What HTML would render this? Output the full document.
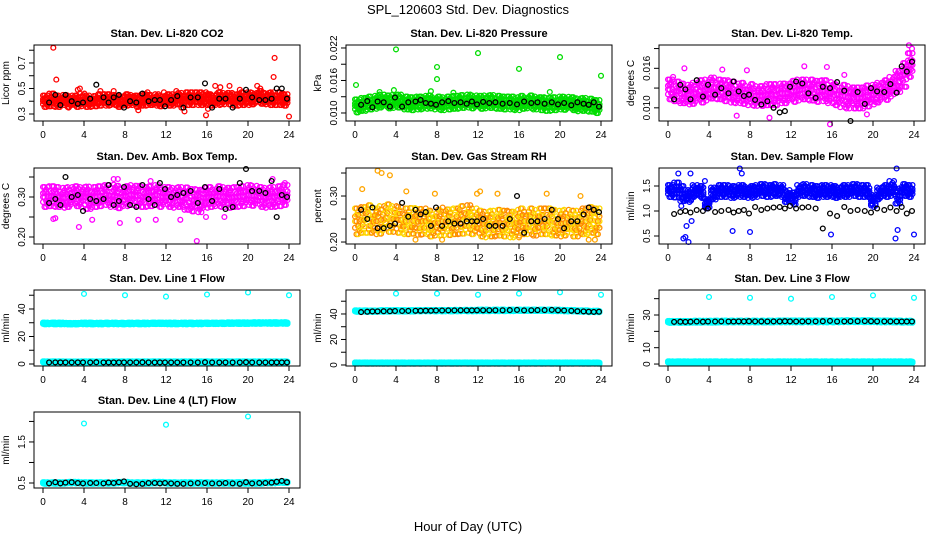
<!DOCTYPE html>
<html><head><meta charset="utf-8"><style>
html,body{margin:0;padding:0;background:#fff;}
svg{display:block;font-family:"Liberation Sans",Arial,sans-serif;}
</style></head><body>
<svg id="chart" width="936" height="540" viewBox="0 0 936 540" xmlns="http://www.w3.org/2000/svg">
<rect x="0" y="0" width="936" height="540" fill="#fff"/>
<text x="468" y="14" font-size="13" text-anchor="middle">SPL_120603  Std. Dev. Diagnostics</text>
<text x="468" y="531" font-size="13" text-anchor="middle">Hour of Day (UTC)</text>
</svg>
<script>
const hoursBand40=[0,0.6,1.2,1.8,2.4,3,3.6,4.2,4.8,5.4,6,6.6,7.2,7.8,8.4,9,9.6,10.2,10.8,11.4,12,12.6,13.2,13.8,14.4,15,15.6,16.2,16.8,17.4,18,18.6,19.2,19.8,20.4,21,21.6,22.2,22.8,23.4];
const hoursBand20=[0,1.2,2.4,3.6,4.8,6,7.2,8.4,9.6,10.8,12,13.2,14.4,15.6,16.8,18,19.2,20.4,21.6,22.8];
const hoursBlack=[0.6,1.2,1.7,2.2,2.8,3.4,3.9,4.6,5.2,5.9,6.4,6.9,7.4,7.9,8.5,9.1,9.7,10.3,10.9,11.4,11.9,12.5,13.1,13.7,14.4,15.1,15.8,16.5,17.2,17.8,18.5,19.2,19.8,20.4,21.1,21.7,22.3,22.8,23.3,23.8];
const xTicks=[0,4,8,12,16,20,24];

// CO2
const co2Mid=[0.40,0.41,0.40,0.41,0.40,0.40,0.41,0.40,0.40,0.41,0.41,0.41,0.40,0.41,0.41,0.40,0.41,0.41,0.41,0.40,0.41,0.41,0.42,0.42,0.42,0.42,0.42,0.41,0.42,0.42,0.42,0.41,0.42,0.42,0.42,0.43,0.42,0.42,0.42,0.41];
const co2Spread=[0.045,0.05,0.045,0.04,0.045,0.045,0.05,0.045,0.04,0.045,0.045,0.04,0.045,0.045,0.04,0.045,0.045,0.04,0.045,0.04,0.045,0.045,0.045,0.05,0.05,0.05,0.05,0.045,0.05,0.045,0.045,0.045,0.05,0.05,0.045,0.05,0.045,0.05,0.05,0.045];
const co2OutHours=[1,1.3,2.5,3.4,3.6,5.6,6.9,9.3,10.2,11.8,13,13.8,13.5,15.9,16.1,16.8,17.3,18.2,19.2,20.9,21.2,22.5,22.6,23.4,24];
const co2OutVals=[0.82,0.57,0.35,0.49,0.5,0.48,0.48,0.33,0.47,0.47,0.48,0.32,0.35,0.29,0.34,0.52,0.51,0.52,0.49,0.52,0.5,0.59,0.74,0.46,0.28];
const co2Black=[0.39,0.45,0.37,0.45,0.40,0.38,0.39,0.42,0.53,0.43,0.39,0.43,0.45,0.35,0.40,0.39,0.46,0.40,0.41,0.41,0.36,0.41,0.44,0.35,0.43,0.43,0.54,0.35,0.42,0.42,0.35,0.42,0.49,0.43,0.41,0.41,0.42,0.50,0.50,0.42];

// Pressure
const presMid=[0.01131,0.01158,0.01185,0.01198,0.01219,0.01205,0.01212,0.01219,0.01185,0.01171,0.01185,0.01198,0.01205,0.01185,0.01171,0.01185,0.01198,0.01212,0.01219,0.01205,0.01198,0.01205,0.01212,0.01198,0.01185,0.01185,0.01171,0.01198,0.01205,0.01185,0.01171,0.01158,0.01171,0.01185,0.01178,0.01171,0.01151,0.01158,0.01144,0.01117];
const presOutHours=[0.1,4,8,8,12,16,20,24,3.8,2.4,7.4,9.6,19];
const presOutVals=[0.01517,0.02173,0.01848,0.01625,0.02106,0.01814,0.02031,0.01686,0.01422,0.01388,0.01402,0.01374,0.01388];
const presBlack=[0.01151,0.01219,0.01104,0.01212,0.01198,0.01117,0.01286,0.01117,0.01198,0.01212,0.01239,0.01185,0.01171,0.01151,0.01198,0.01219,0.01185,0.01198,0.01171,0.01212,0.01158,0.01205,0.01185,0.01198,0.01171,0.01185,0.01158,0.01212,0.01185,0.01198,0.01171,0.01198,0.01158,0.01185,0.01144,0.01198,0.01171,0.01151,0.01198,0.01117];

// Temp
const tempMid=[0.0128,0.0125,0.0122,0.0120,0.0122,0.0125,0.0127,0.0130,0.0128,0.0126,0.0124,0.0122,0.0122,0.0120,0.0118,0.0118,0.0120,0.0120,0.0122,0.0122,0.0125,0.0127,0.0128,0.0127,0.0125,0.0126,0.0123,0.0120,0.0118,0.0116,0.0115,0.0115,0.0118,0.0120,0.0123,0.0127,0.0132,0.0140,0.0150,0.0165];
const tempSpread=[0.0015,0.0015,0.0015,0.0015,0.0016,0.0017,0.0016,0.0016,0.0015,0.0016,0.0016,0.0015,0.0016,0.0016,0.0015,0.0015,0.0016,0.0016,0.0015,0.0015,0.0016,0.0016,0.0015,0.0016,0.0016,0.0016,0.0016,0.0016,0.0017,0.0017,0.0016,0.0016,0.0016,0.0015,0.0015,0.0015,0.0015,0.0016,0.0018,0.0018];
const tempOutHours=[1.6,5.3,6.7,7.7,9.9,13.3,15.5,15.8,17.2,19.4,23.5,23.8,23.6,0.5];
const tempOutVals=[0.0160,0.0158,0.0088,0.0157,0.0085,0.0163,0.0162,0.0075,0.0150,0.0090,0.0195,0.0190,0.0170,0.0147];
const tempBlack=[0.0113,0.0135,0.0128,0.0113,0.0142,0.0117,0.0135,0.0120,0.0130,0.0122,0.0140,0.0125,0.0118,0.0120,0.0112,0.0105,0.0110,0.0100,0.0093,0.0095,0.0132,0.0140,0.0137,0.0122,0.0115,0.0132,0.0130,0.0139,0.0126,0.0080,0.0124,0.0106,0.0130,0.0125,0.0124,0.0136,0.0123,0.0163,0.0155,0.0170];

// Amb box temp
const ambMid=[0.300,0.302,0.300,0.298,0.300,0.302,0.300,0.298,0.300,0.302,0.305,0.303,0.300,0.302,0.305,0.303,0.300,0.302,0.305,0.300,0.300,0.298,0.300,0.296,0.292,0.290,0.298,0.300,0.302,0.300,0.298,0.300,0.302,0.305,0.303,0.300,0.298,0.300,0.302,0.305];
const ambSpread=[0.025,0.025,0.025,0.025,0.025,0.025,0.025,0.028,0.025,0.025,0.025,0.028,0.028,0.025,0.025,0.025,0.025,0.025,0.025,0.025,0.025,0.025,0.025,0.028,0.028,0.028,0.025,0.025,0.025,0.025,0.025,0.025,0.025,0.025,0.025,0.025,0.025,0.025,0.025,0.025];
const ambOutHours=[1,1.2,3.5,4.8,7.5,9.3,11,13.4,15,15.9,17.7,22.4,23.6,6.9,7.3,10.5];
const ambOutVals=[0.245,0.247,0.225,0.243,0.235,0.243,0.243,0.243,0.19,0.25,0.25,0.345,0.335,0.345,0.345,0.34];
const ambBlack=[0.285,0.295,0.28,0.35,0.30,0.305,0.265,0.295,0.29,0.295,0.33,0.28,0.29,0.325,0.28,0.275,0.33,0.295,0.28,0.335,0.32,0.30,0.305,0.31,0.315,0.285,0.325,0.29,0.32,0.27,0.275,0.335,0.37,0.315,0.315,0.31,0.34,0.25,0.305,0.30];

// RH
const rhMid=[0.245,0.248,0.250,0.245,0.248,0.252,0.250,0.248,0.245,0.246,0.244,0.245,0.240,0.242,0.245,0.243,0.245,0.248,0.250,0.245,0.240,0.238,0.240,0.242,0.240,0.238,0.242,0.245,0.245,0.242,0.245,0.245,0.242,0.240,0.242,0.240,0.240,0.245,0.248,0.245];
const rhSpread=[0.028,0.028,0.030,0.028,0.030,0.030,0.028,0.028,0.028,0.028,0.028,0.028,0.028,0.028,0.030,0.028,0.028,0.030,0.030,0.028,0.028,0.028,0.028,0.028,0.028,0.028,0.028,0.028,0.028,0.028,0.028,0.028,0.028,0.028,0.028,0.028,0.028,0.028,0.028,0.028];
const rhOutHours=[2.2,2.6,3.4,0.7,5,7.8,11.9,12.2,13.9,18.7,22,22.8,23.4,5.9,8.5,16];
const rhOutVals=[0.355,0.35,0.345,0.315,0.31,0.305,0.305,0.31,0.305,0.305,0.30,0.205,0.205,0.205,0.205,0.21];
const rhBlack=[0.27,0.25,0.275,0.23,0.23,0.235,0.24,0.285,0.255,0.27,0.26,0.265,0.235,0.275,0.235,0.245,0.24,0.24,0.245,0.245,0.245,0.25,0.235,0.235,0.235,0.25,0.30,0.22,0.245,0.245,0.25,0.27,0.25,0.23,0.245,0.245,0.26,0.275,0.27,0.265];

// Sample flow
const flowMid=[1.40,1.42,1.35,1.30,1.40,1.38,1.15,1.35,1.40,1.40,1.38,1.40,1.40,1.38,1.40,1.42,1.40,1.42,1.40,1.30,1.25,1.40,1.42,1.40,1.38,1.40,1.40,1.38,1.40,1.40,1.42,1.40,1.40,1.20,1.35,1.40,1.45,1.30,1.42,1.40];
const flowSpread=[0.12,0.15,0.15,0.12,0.12,0.12,0.1,0.12,0.12,0.12,0.12,0.12,0.12,0.12,0.12,0.12,0.12,0.12,0.12,0.12,0.12,0.12,0.12,0.12,0.12,0.12,0.12,0.12,0.12,0.12,0.12,0.12,0.12,0.12,0.12,0.12,0.15,0.15,0.12,0.12];
const flowOutHours=[1,1.5,1.7,2,1.8,2.3,2.2,6.3,7,7.2,8,15.9,22.2,22.3,22.4,24,1.3,3.6];
const flowOutVals=[1.75,0.45,0.48,0.38,0.7,0.8,1.75,0.6,1.85,1.75,0.58,0.53,0.45,1.85,0.62,0.53,1.1,1.6];
const flowBlack=[0.94,0.98,1.0,0.97,1.02,1.0,1.05,0.98,1.0,1.02,0.97,1.0,1.02,0.95,1.08,1.02,1.05,1.07,1.08,1.05,1.1,1.05,1.07,1.08,1.05,0.65,0.95,0.9,1.08,1.0,1.02,1.0,0.97,1.05,1.02,1.07,1.0,1.08,0.95,1.0];

// Line flows (20-point bands)
const line1High=[29.5,29.5,29.3,29.5,29.4,29.5,29.4,29.5,29.5,29.6,29.5,29.5,29.5,29.6,29.6,29.7,29.7,29.8,29.8,29.8];
const line1Low=[1.5,1.5,1.4,1.5,1.5,1.5,1.5,1.5,1.5,1.5,1.5,1.5,1.5,1.5,1.5,1.5,1.5,1.5,1.5,1.5];
const line1OutHours=[4,8,12,16,20,24];
const line1OutVals=[51,50,49,50.5,52,50];
const line1Black=[1.2,1.2,1.2,1.2,1.2,1.2,1.2,1.2,1.3,1.2,1.2,1.2,1.2,1.2,1.2,1.2,1.3,1.2,1.2,1.2,1.2,1.2,1.2,1.2,1.2,1.2,1.3,1.2,1.2,1.2,1.2,1.2,1.3,1.2,1.2,1.2,1.2,1.2,1.2,1.2];
const line2High=[42.3,42.2,42.4,42.5,42.5,42.6,42.6,42.6,42.7,42.7,42.8,42.8,42.8,42.9,42.9,42.9,42.8,42.6,42.3,42.0];
const line2Low=[1.5,1.5,1.5,1.5,1.5,1.5,1.5,1.5,1.5,1.5,1.5,1.5,1.5,1.5,1.5,1.5,1.5,1.5,1.5,1.5];
const line2OutHours=[4,8,12,16,20,24];
const line2OutVals=[56,56,55,56,57,55];
const line2Black=[41.5,41.8,42.0,42.0,42.2,42.2,42.3,42.3,42.4,42.5,42.5,42.6,42.6,42.7,42.7,42.8,42.8,42.9,42.8,42.8,42.9,42.9,42.9,42.9,42.9,43.0,43.2,42.8,42.9,43.0,43.0,43.2,42.9,42.7,42.5,42.2,42.0,41.8,41.6,41.8];
const line3High=[25.8,25.8,25.9,25.9,26.0,26.0,26.0,26.0,26.0,26.1,26.1,26.1,26.1,26.1,26.2,26.2,26.2,26.1,26.0,25.9];
const line3Low=[1.2,1.2,1.2,1.2,1.2,1.2,1.2,1.2,1.2,1.2,1.2,1.2,1.2,1.2,1.2,1.2,1.2,1.2,1.2,1.2];
const line3OutHours=[4,8,12,16,20,24];
const line3OutVals=[41,40.5,40,41,42,40.5];
const line3Black=[25.8,25.9,25.8,25.9,26.0,25.9,26.0,26.0,26.1,26.0,26.0,26.1,26.1,26.2,26.1,26.1,26.0,26.1,26.1,26.2,26.1,26.0,26.1,26.1,26.1,26.2,26.4,26.0,26.1,26.2,26.2,26.3,26.2,26.1,26.1,26.1,26.0,26.0,26.0,26.0];
const line4High=[0.5,0.5,0.51,0.5,0.5,0.5,0.51,0.5,0.5,0.51,0.5,0.5,0.5,0.5,0.5,0.5,0.5,0.5,0.51,0.52];
const line4OutHours=[4,12,20];
const line4OutVals=[1.95,1.92,2.12];
const line4Black=[0.49,0.52,0.49,0.51,0.52,0.5,0.49,0.5,0.5,0.49,0.51,0.5,0.52,0.54,0.48,0.47,0.48,0.5,0.5,0.49,0.5,0.49,0.48,0.48,0.49,0.5,0.5,0.49,0.49,0.5,0.49,0.48,0.52,0.49,0.5,0.5,0.51,0.53,0.55,0.52];

const NS='http://www.w3.org/2000/svg';
const svg=document.getElementById('chart');
function mk(tag,attrs,parent){const e=document.createElementNS(NS,tag);for(const k in attrs)e.setAttribute(k,attrs[k]);(parent||svg).appendChild(e);return e;}

const colLeft=[34,346,659];
const rowTop=[45,168,290,412];
const W=266,H=76;

function panel(cfg){
  const L=colLeft[cfg.col],T=rowTop[cfg.row];
  const g=mk('g',{});
  
  
  const xs=h=>L+9+h*(246/24);
  const ys=v=>T+H-(v-cfg.ymin)/(cfg.ymax-cfg.ymin)*H;
  const t=mk('text',{x:L+W/2,y:T-8,'font-size':'11','font-weight':'bold','text-anchor':'middle'},g);
  t.textContent=cfg.title;
  
  
  const pts=mk('g',{fill:'none','stroke-width':'1.3'},g);
  
  
  function circ(h,v,color){
    mk('circle',{cx:xs(h).toFixed(1),cy:ys(v).toFixed(1),r:'2.4',stroke:color},pts);
  }
  (cfg.bands||[]).forEach(b=>{
    const step=b.hours[1]-b.hours[0];
    b.mid.forEach((m,i)=>{
      const sp=b.spread?b.spread[i]:b.sp;
      const nSub=Math.max(2,Math.round(step/0.15));
      for(let s=0;s<nSub;s++){
        const h=b.hours[i]+s*step/nSub;
        const lv=[-1,-0.5,0,0.5,1];
        lv.forEach((f,j)=>{
          if((s*7+j*3+i)%5===0) return;
          const k=(s+j+i)%2;
          const col=b.colors[k%b.colors.length];
          circ(h,m+f*sp*((s+j+i)%3===0?0.75:1),col);
        });
      }
    });
  });
  (cfg.outliers||[]).forEach(o=>o.hours.forEach((h,i)=>circ(h,o.vals[i],o.color)));
  if(cfg.black) cfg.black.forEach((v,i)=>circ(hoursBlack[i],v,'#000'));
  mk('rect',{x:L,y:T,width:W,height:H,fill:'none',stroke:'#000','stroke-width':'1'},g);
  const xa=mk('g',{},g);
  
  
  mk('line',{x1:xs(0),x2:xs(24),y1:T+H,y2:T+H,stroke:'#000'},xa);
  xTicks.forEach(v=>{
    mk('line',{x1:xs(v),x2:xs(v),y1:T+H,y2:T+H+5,stroke:'#000'},xa);
    const tl=mk('text',{x:xs(v),y:T+H+17,'font-size':'10','text-anchor':'middle'},xa);
    tl.textContent=v;
  });
  const ya=mk('g',{},g);
  
  
  mk('line',{x1:L,x2:L,y1:ys(cfg.yticks[0]),y2:ys(cfg.yticks[cfg.yticks.length-1]),stroke:'#000'},ya);
  cfg.yticks.forEach((v,i)=>{
    const y=ys(v);
    mk('line',{x1:L-5,x2:L,y1:y,y2:y,stroke:'#000'},ya);
    if(cfg.ylabels[i]){
      const tl=mk('text',{x:L-9,y:y,'font-size':'10','text-anchor':'middle',transform:`rotate(-90 ${L-9} ${y})`},ya);
      tl.textContent=cfg.ylabels[i];
    }
  });
  const yt=mk('text',{x:L-25,y:T+H/2,'font-size':'10','text-anchor':'middle',transform:`rotate(-90 ${L-25} ${T+H/2})`},g);
  yt.textContent=cfg.ylab;
  
  
}

panel({name:'panel-co2',title:'Stan. Dev. Li-820 CO2',ylab:'Licor ppm',col:0,row:0,ymin:0.245,ymax:0.841,
  yticks:[0.3,0.4,0.5,0.6,0.7,0.8],ylabels:['0.3','','0.5','','0.7',''],
  bands:[{hours:hoursBand40,mid:co2Mid,spread:co2Spread,colors:['#ff0000']}],
  outliers:[{hours:co2OutHours,vals:co2OutVals,color:'#ff0000'}],black:co2Black});
panel({name:'panel-pressure',title:'Stan. Dev. Li-820 Pressure',ylab:'kPa',col:1,row:0,ymin:0.00852,ymax:0.02255,
  yticks:[0.010,0.013,0.016,0.019,0.022],ylabels:['0.010','','0.016','','0.022'],
  bands:[{hours:hoursBand40,mid:presMid,sp:0.0012,colors:['#00dd00']}],
  outliers:[{hours:presOutHours,vals:presOutVals,color:'#00dd00'}],black:presBlack});
panel({name:'panel-temp',title:'Stan. Dev. Li-820 Temp.',ylab:'degrees C',col:2,row:0,ymin:0.008,ymax:0.01954,
  yticks:[0.010,0.013,0.016,0.019],ylabels:['0.010','','0.016',''],
  bands:[{hours:hoursBand40,mid:tempMid,spread:tempSpread,colors:['#ff00ff']}],
  outliers:[{hours:tempOutHours,vals:tempOutVals,color:'#ff00ff'}],black:tempBlack});
panel({name:'panel-amb-temp',title:'Stan. Dev. Amb. Box Temp.',ylab:'degrees C',col:0,row:1,ymin:0.1825,ymax:0.3725,
  yticks:[0.20,0.25,0.30,0.35],ylabels:['0.20','','0.30',''],
  bands:[{hours:hoursBand40,mid:ambMid,spread:ambSpread,colors:['#ff00ff']}],
  outliers:[{hours:ambOutHours,vals:ambOutVals,color:'#ff00ff'}],black:ambBlack});
panel({name:'panel-rh',title:'Stan. Dev. Gas Stream RH',ylab:'percent',col:1,row:1,ymin:0.1957,ymax:0.3609,
  yticks:[0.20,0.25,0.30,0.35],ylabels:['0.20','','0.30',''],
  bands:[{hours:hoursBand40,mid:rhMid,spread:rhSpread,colors:['#ffd700','#ff8c00']}],
  outliers:[{hours:rhOutHours,vals:rhOutVals,color:'#ffa500'}],black:rhBlack});
panel({name:'panel-sample-flow',title:'Stan. Dev. Sample Flow',ylab:'ml/min',col:2,row:1,ymin:0.34,ymax:1.86,
  yticks:[0.5,1.0,1.5],ylabels:['0.5','1.0','1.5'],
  bands:[{hours:hoursBand40,mid:flowMid,spread:flowSpread,colors:['#0000ff']}],
  outliers:[{hours:flowOutHours,vals:flowOutVals,color:'#0000ff'}],black:flowBlack});
panel({name:'panel-line1',title:'Stan. Dev. Line 1 Flow',ylab:'ml/min',col:0,row:2,ymin:-1.45,ymax:53.8,
  yticks:[0,10,20,30,40,50],ylabels:['0','','20','','40',''],
  bands:[{hours:hoursBand20,mid:line1High,sp:0.6,colors:['#00ffff']},{hours:hoursBand20,mid:line1Low,sp:0.5,colors:['#00ffff']}],
  outliers:[{hours:line1OutHours,vals:line1OutVals,color:'#00ffff'}],black:line1Black});
panel({name:'panel-line2',title:'Stan. Dev. Line 2 Flow',ylab:'ml/min',col:1,row:2,ymin:-0.8,ymax:58.8,
  yticks:[0,10,20,30,40,50],ylabels:['0','','20','','40',''],
  bands:[{hours:hoursBand20,mid:line2High,sp:0.6,colors:['#00ffff']},{hours:hoursBand20,mid:line2Low,sp:0.5,colors:['#00ffff']}],
  outliers:[{hours:line2OutHours,vals:line2OutVals,color:'#00ffff'}],black:line2Black});
panel({name:'panel-line3',title:'Stan. Dev. Line 3 Flow',ylab:'ml/min',col:2,row:2,ymin:-1.2,ymax:45.3,
  yticks:[0,10,20,30,40],ylabels:['0','10','','30',''],
  bands:[{hours:hoursBand20,mid:line3High,sp:0.6,colors:['#00ffff']},{hours:hoursBand20,mid:line3Low,sp:0.5,colors:['#00ffff']}],
  outliers:[{hours:line3OutHours,vals:line3OutVals,color:'#00ffff'}],black:line3Black});
panel({name:'panel-line4',title:'Stan. Dev. Line 4 (LT) Flow',ylab:'ml/min',col:0,row:3,ymin:0.378,ymax:2.23,
  yticks:[0.5,1.0,1.5,2.0],ylabels:['0.5','','1.5',''],
  bands:[{hours:hoursBand20,mid:line4High,sp:0.02,colors:['#00ffff']}],
  outliers:[{hours:line4OutHours,vals:line4OutVals,color:'#00ffff'}],black:line4Black});
</script>
</body></html>
